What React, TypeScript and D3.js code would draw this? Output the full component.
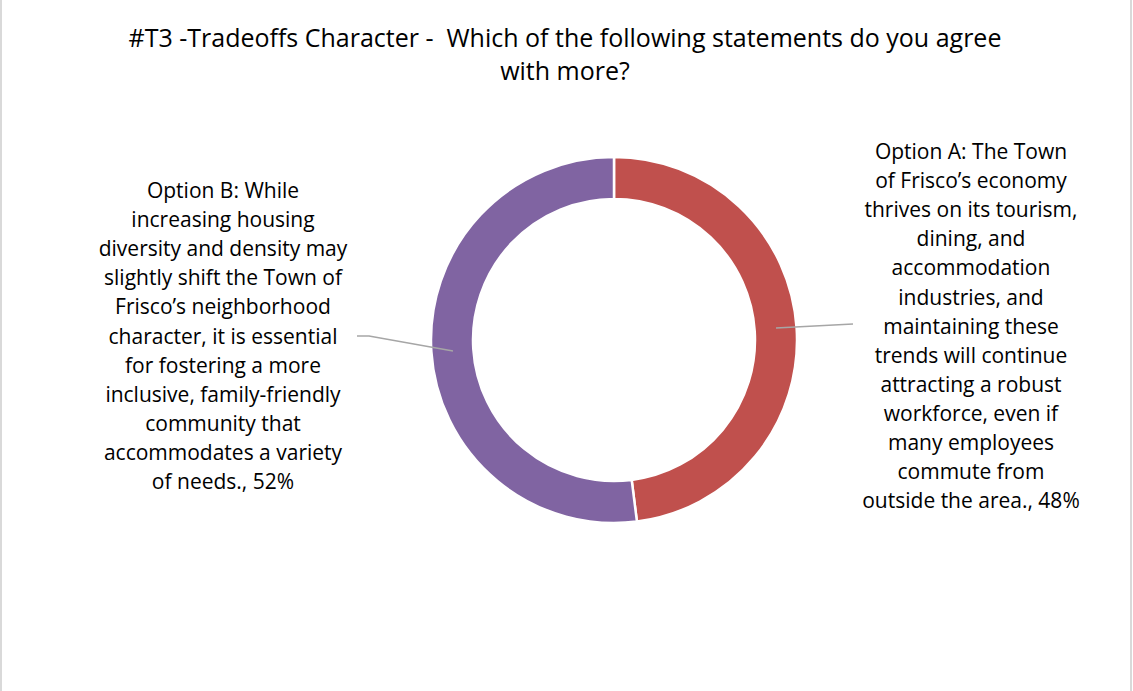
import React from "react";
import * as d3 from "d3";

const W = 1133;
const H = 691;

const titleLines = [
  "#T3 -Tradeoffs Character -  Which of the following statements do you agree",
  "with more?",
];
const categories = ["Option A", "Option B"];
const values = [48, 52];
const colors = ["#C0504D", "#8064A2"];
const labelA = [
  "Option A: The Town",
  "of Frisco\u2019s economy",
  "thrives on its tourism,",
  "dining, and",
  "accommodation",
  "industries, and",
  "maintaining these",
  "trends will continue",
  "attracting a robust",
  "workforce, even if",
  "many employees",
  "commute from",
  "outside the area., 48%",
];
const labelB = [
  "Option B: While",
  "increasing housing",
  "diversity and density may",
  "slightly shift the Town of",
  "Frisco\u2019s neighborhood",
  "character, it is essential",
  "for fostering a more",
  "inclusive, family-friendly",
  "community that",
  "accommodates a variety",
  "of needs., 52%",
];

export default function App() {
  const cx = 614;
  const cy = 340;
  const outerR = 183;
  const innerR = 141;
  const pie = d3.pie<number>().sort(null).value((d) => d);
  const arcs = pie(values);
  const arcGen = d3.arc<d3.PieArcDatum<number>>().innerRadius(innerR).outerRadius(outerR);
  const font = "'Open Sans', sans-serif";
  const lh = 29.1;
  const line = d3.line();
  const leaderA: [number, number][] = [[776, 328], [853, 324]];
  const leaderB: [number, number][] = [[453, 351], [369, 336], [357, 336]];
  const labels = [
    { lines: labelA, x: 971, y: 159 },
    { lines: labelB, x: 223, y: 198 },
  ];
  return (
    <svg width={W} height={H} style={{ position: "absolute", left: 0, top: 0, background: "#fff" }}>
      <rect x={0} y={0} width={W} height={H} fill="#fff" />
      <line x1={1} y1={0} x2={1} y2={H} stroke="#D9D9D9" strokeWidth={2} />
      <line x1={1131} y1={0} x2={1131} y2={H} stroke="#D9D9D9" strokeWidth={2} />
      {titleLines.map((t, i) => (
        <text key={i} x={565} y={47 + i * 33} textAnchor="middle" fontFamily={font} fontSize={25} fill="#000" style={{ whiteSpace: "pre" }}>
          {t}
        </text>
      ))}
      <g transform={`translate(${cx},${cy})`}>
        {arcs.map((a, i) => (
          <path key={categories[i]} d={arcGen(a) || ""} fill={colors[i]} stroke="#fff" strokeWidth={2.5} />
        ))}
      </g>
      <path d={line(leaderA) || ""} fill="none" stroke="#A6A6A6" strokeWidth={1.5} />
      <path d={line(leaderB) || ""} fill="none" stroke="#A6A6A6" strokeWidth={1.5} />
      {labels.map((l, k) => (
        <text key={k} textAnchor="middle" fontFamily={font} fontSize={21} fill="#000">
          {l.lines.map((s, i) => (
            <tspan key={i} x={l.x} y={l.y + i * lh}>
              {s}
            </tspan>
          ))}
        </text>
      ))}
    </svg>
  );
}
